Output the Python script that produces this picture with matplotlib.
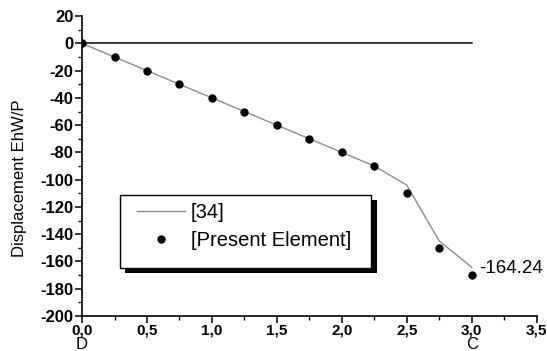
import numpy as np
import matplotlib.pyplot as plt
from matplotlib.patches import Rectangle
from matplotlib.ticker import MultipleLocator, FuncFormatter

plt.rcParams['font.family'] = ['Liberation Sans', 'DejaVu Sans']

# data
x_ref = [0, 0.25, 0.5, 0.75, 1.0, 1.25, 1.5, 1.75, 2.0, 2.25, 2.5, 2.75, 3.0]
y_ref = [0, -10, -20, -30, -40, -50, -60, -70, -80, -90, -104, -145, -164.24]
x_pres = [0, 0.25, 0.5, 0.75, 1.0, 1.25, 1.5, 1.75, 2.0, 2.25, 2.5, 2.75, 3.0]
y_pres = [0, -10, -20, -30, -40, -50, -60, -70, -80, -90, -110, -150, -170]
zero_x = [0, 3.0]
zero_y = [0, 0]

fig = plt.figure(figsize=(5.47, 3.51), dpi=100)
ax = fig.add_axes([0.15, 0.10, 0.831, 0.854])

ax.plot(zero_x, zero_y, color='black', lw=1.1, zorder=2)
ax.plot(x_ref, y_ref, color='#8c8c8c', lw=1.0, label='[34]', zorder=3)
ax.plot(x_pres, y_pres, 'o', color='black', ms=5, label='[Present Element]', zorder=4)

ax.set_xlim(0, 3.5)
ax.set_ylim(-200, 20)
ax.xaxis.set_major_locator(MultipleLocator(0.5))
ax.xaxis.set_minor_locator(MultipleLocator(0.25))
ax.yaxis.set_major_locator(MultipleLocator(20))
ax.yaxis.set_minor_locator(MultipleLocator(10))
ax.xaxis.set_major_formatter(FuncFormatter(lambda v, p: f'{v:.1f}'.replace('.', ',')))
ax.yaxis.set_major_formatter(FuncFormatter(lambda v, p: f'{v:.0f}'))

for s in ['top', 'right']:
    ax.spines[s].set_visible(False)
for s in ['left', 'bottom']:
    ax.spines[s].set_linewidth(1.2)

ax.tick_params(which='major', direction='out', length=5, width=1.1, pad=1)
ax.tick_params(axis='y', which='major', labelsize=12)
ax.tick_params(axis='x', which='major', labelsize=11, pad=0.5)
ax.tick_params(which='minor', direction='out', length=3, width=1.0)
for lab in ax.get_xticklabels() + ax.get_yticklabels():
    lab.set_fontweight('bold')

ax.set_ylabel('Displacement EhW/P', fontsize=12)
ax.yaxis.set_label_coords(-0.121, 0.46)

ax.text(0, -220.8, 'D', ha='center', va='center', fontsize=12, clip_on=False)
ax.text(3.0, -220.8, 'C', ha='center', va='center', fontsize=12, clip_on=False)
ax.text(3.06, -165.5, '-164.24', ha='left', va='center', fontsize=13.5)

# legend box with shadow, drawn by hand
box_x0, box_y0, box_w, box_h = 0.083, 0.16, 0.553, 0.243
ax.add_patch(Rectangle((box_x0 + 0.012, box_y0 - 0.018), box_w, box_h, transform=ax.transAxes,
                       facecolor='black', edgecolor='none', zorder=5, clip_on=False))
ax.add_patch(Rectangle((box_x0, box_y0), box_w, box_h, transform=ax.transAxes,
                       facecolor='white', edgecolor='black', lw=1.0, zorder=6, clip_on=False))

leg = ax.legend(loc='upper left', bbox_to_anchor=(box_x0 + 0.028, box_y0 + box_h - 0.012),
                fontsize=14.5, frameon=False, borderpad=0.2, labelspacing=0.45,
                handlelength=2.4, handletextpad=0.3, borderaxespad=0)
leg.set_zorder(7)

fig.savefig('out.png', dpi=100)
